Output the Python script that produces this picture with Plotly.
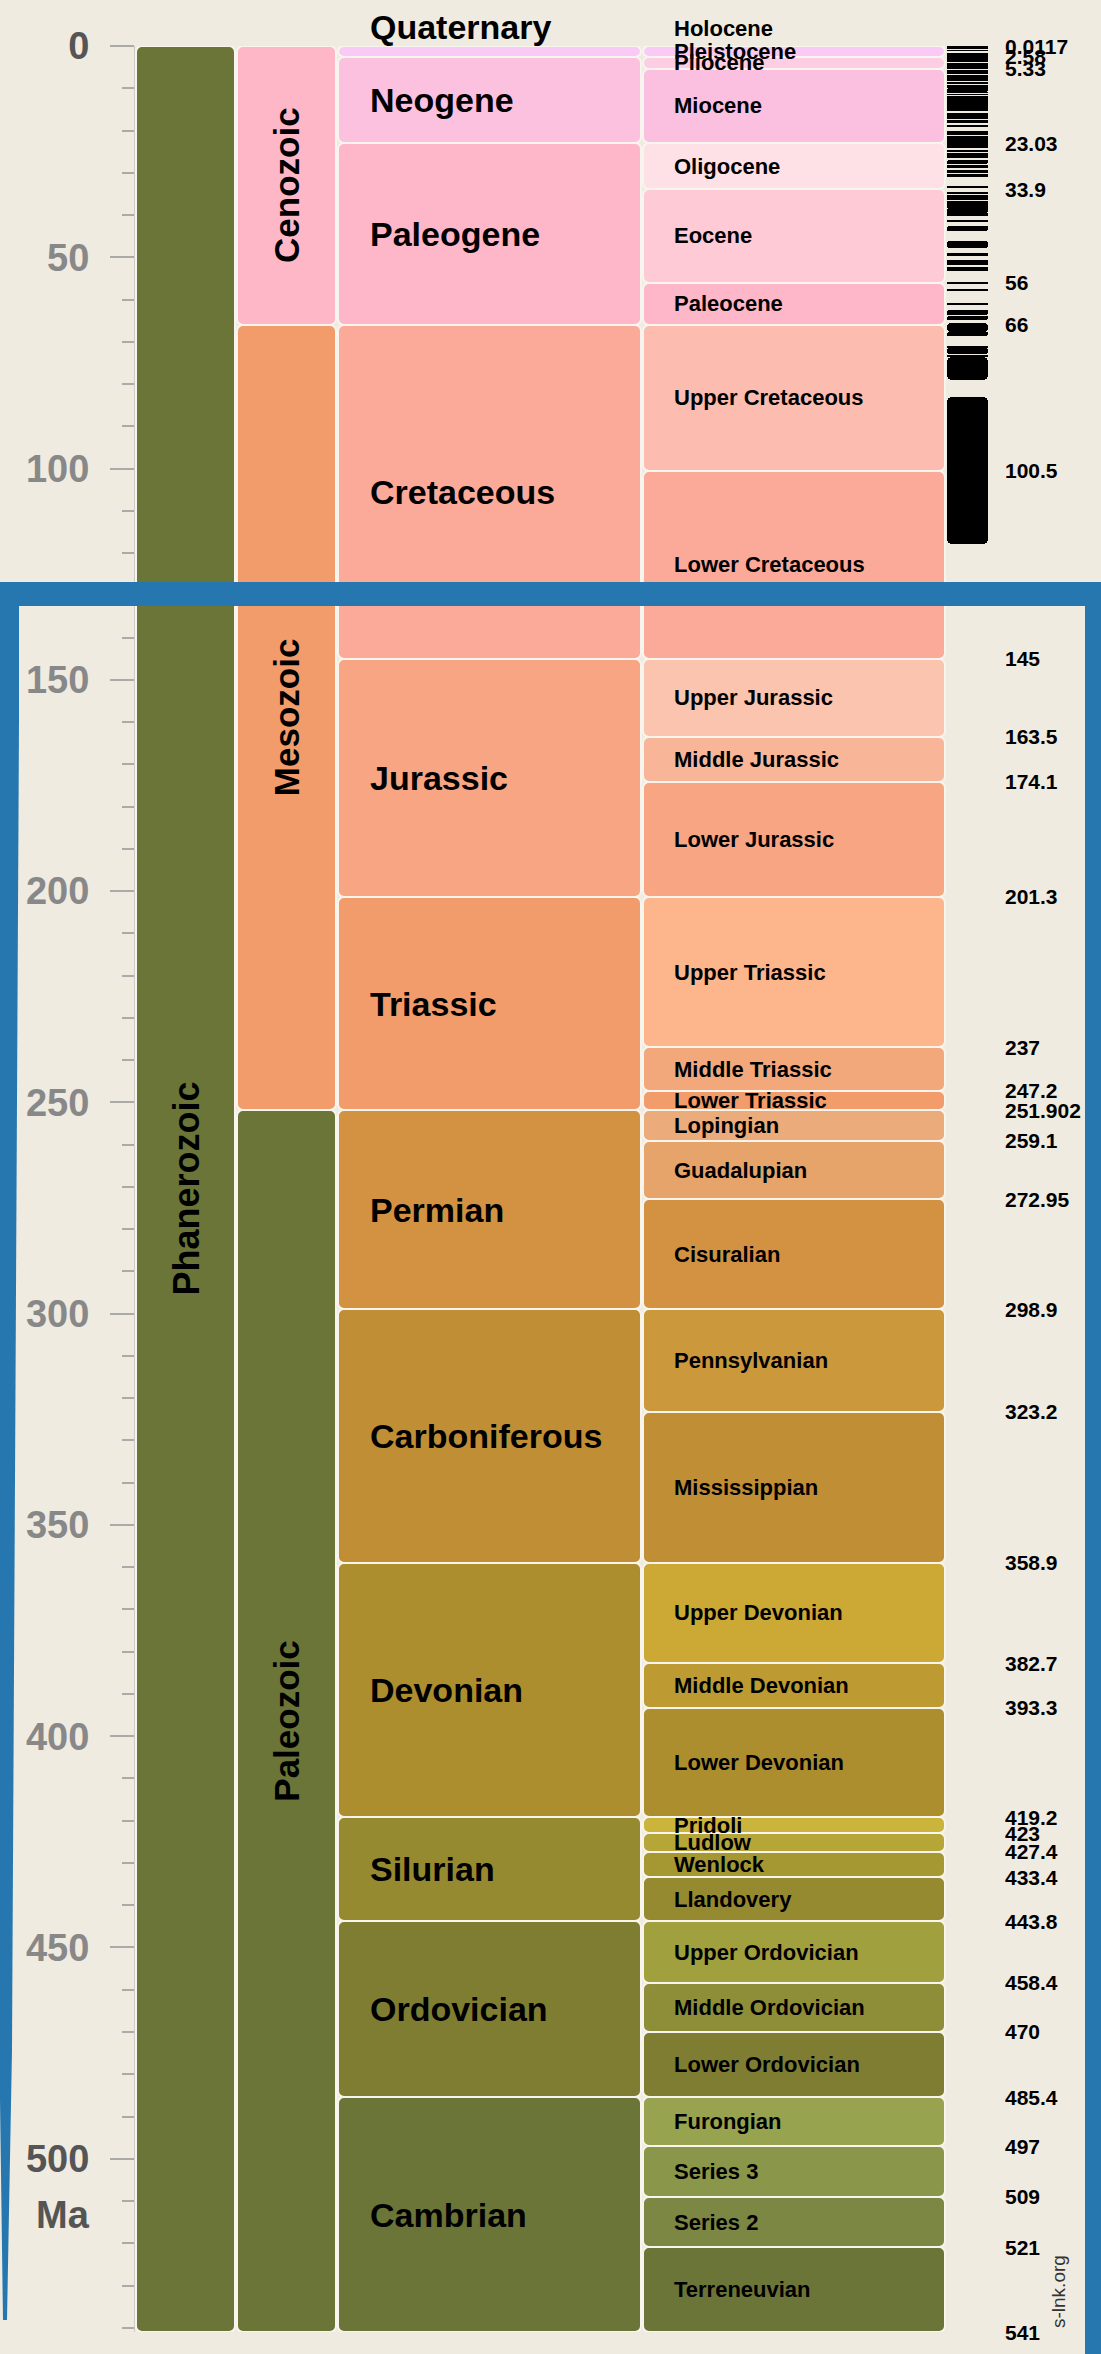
import plotly.graph_objects as go

BG = "#efebe1"
FONT = "Liberation Sans"

# ---- data (Ma) ----
eon_names = ["Phanerozoic"]
eon_start = [0]
eon_end = [541]
eon_colors = ["#6b7537"]

era_names = ["Cenozoic", "Mesozoic", "Paleozoic"]
era_start = [0, 66, 251.902]
era_end = [66, 251.902, 541]
era_colors = ["#fdb7c7", "#f29c6b", "#6b7537"]

period_names = ["Quaternary", "Neogene", "Paleogene", "Cretaceous", "Jurassic", "Triassic",
                "Permian", "Carboniferous", "Devonian", "Silurian", "Ordovician", "Cambrian"]
period_start = [0, 2.58, 23.03, 66, 145, 201.3, 251.902, 298.9, 358.9, 419.2, 443.8, 485.4]
period_end = [2.58, 23.03, 66, 145, 201.3, 251.902, 298.9, 358.9, 419.2, 443.8, 485.4, 541]
period_colors = ["#f9caf6", "#fbc1df", "#fdb7c8", "#fbaa9a", "#f8a584", "#f29c6b",
                 "#d39242", "#c08e35", "#ac8e2e", "#958a2f", "#7f7d31", "#6b7537"]

epoch_names = ["Holocene", "Pleistocene", "Pliocene", "Miocene", "Oligocene", "Eocene", "Paleocene",
               "Upper Cretaceous", "Lower Cretaceous", "Upper Jurassic", "Middle Jurassic",
               "Lower Jurassic", "Upper Triassic", "Middle Triassic", "Lower Triassic",
               "Lopingian", "Guadalupian", "Cisuralian", "Pennsylvanian", "Mississippian",
               "Upper Devonian", "Middle Devonian", "Lower Devonian", "Pridoli", "Ludlow",
               "Wenlock", "Llandovery", "Upper Ordovician", "Middle Ordovician",
               "Lower Ordovician", "Furongian", "Series 3", "Series 2", "Terreneuvian"]
epoch_start = [0, 0.0117, 2.58, 5.33, 23.03, 33.9, 56, 66, 100.5, 145, 163.5, 174.1, 201.3,
               237, 247.2, 251.902, 259.1, 272.95, 298.9, 323.2, 358.9, 382.7, 393.3, 419.2,
               423, 427.4, 433.4, 443.8, 458.4, 470, 485.4, 497, 509, 521]
epoch_end = epoch_start[1:] + [541]
epoch_colors = ["#f9caf6", "#f9caf6", "#fccde3", "#fbc0df", "#fde1e6", "#fdcad6", "#fdb7c8",
                "#fcbcb0", "#fbaa9a", "#fac4ae", "#f9b598", "#f8a584", "#fdb58c", "#f2a87b",
                "#f29c6b", "#ecab7b", "#e6a36a", "#d39242", "#cb983c", "#c08e35", "#cca935",
                "#bd9b32", "#ac8e2e", "#cab43b", "#b6a537", "#a59833", "#958a2f", "#a0a03f",
                "#8f8e38", "#7f7d31", "#97a34f", "#8a974a", "#7b8742", "#6b7537"]

boundary_labels = ["0.0117", "2.58", "5.33", "23.03", "33.9", "56", "66", "100.5", "145",
                   "163.5", "174.1", "201.3", "237", "247.2", "251.902", "259.1", "272.95",
                   "298.9", "323.2", "358.9", "382.7", "393.3", "419.2", "423", "427.4",
                   "433.4", "443.8", "458.4", "470", "485.4", "497", "509", "521", "541"]

# normal polarity chrons (Ma), Cande & Kent style
pol_start = [0.0, 0.99, 1.77, 2.14, 2.581, 3.11, 3.33, 4.18, 4.48, 4.8, 4.98, 5.894, 6.269,
             6.935, 7.135, 7.341, 7.432, 7.65, 8.225, 8.699, 9.23, 9.58, 9.74, 9.92, 11.052,
             11.476, 11.935, 12.184, 12.775, 12.991, 13.302, 13.703, 14.178, 14.8, 15.034,
             16.014, 16.327, 16.556, 16.88, 17.615, 18.781, 20.131, 20.725, 21.32, 21.859,
             22.248, 22.493, 22.75, 22.823, 23.353, 23.677, 23.999, 24.73, 24.835, 25.496,
             25.823, 25.992, 27.027, 28.283, 28.578, 29.401, 29.765, 30.479, 33.058, 34.655,
             35.343, 35.685, 36.618, 37.604, 37.92, 38.426, 39.631, 41.257, 42.536, 46.264,
             49.037, 50.778, 51.047, 52.364, 52.757, 52.903, 55.904, 57.554, 60.92, 62.499,
             63.976, 65.578, 67.735, 71.071, 71.587, 73.291, 73.619, 83.0]
pol_end = [0.78, 1.07, 1.95, 2.15, 3.04, 3.22, 3.58, 4.29, 4.62, 4.89, 5.23, 6.137, 6.567,
           7.091, 7.17, 7.375, 7.562, 8.072, 8.257, 9.025, 9.308, 9.642, 9.88, 10.949, 11.099,
           11.531, 12.078, 12.401, 12.819, 13.139, 13.51, 14.076, 14.612, 14.888, 15.155,
           16.293, 16.488, 16.726, 17.277, 18.281, 19.048, 20.518, 20.996, 21.768, 22.151,
           22.459, 22.588, 22.804, 23.069, 23.535, 23.8, 24.118, 24.781, 25.183, 25.648,
           25.951, 26.554, 27.972, 28.512, 28.745, 29.662, 30.098, 30.939, 33.545, 34.94,
           35.526, 36.341, 37.473, 37.848, 38.113, 39.552, 40.13, 41.521, 43.789, 47.906,
           49.714, 50.946, 51.743, 52.663, 52.801, 53.347, 56.391, 57.911, 61.276, 63.634,
           64.745, 67.61, 68.737, 71.338, 73.004, 73.374, 79.075, 117.8]

y_ticks = [0, 50, 100, 150, 200, 250, 300, 350, 400, 450, 500]

# ---- layout geometry (screen pixels) ----
W, H = 1101, 2354
PLOT_L, PLOT_T, PLOT_B = 135, 46, 2332
PLOT_R = W
EON_X = (136, 235)
ERA_X = (237, 336)
PER_X = (338, 641)
EPO_X = (643, 945)
POL_X = (947, 988)
LABEL_X = 1003


def px(xs):
    return (xs - PLOT_L) / (PLOT_R - PLOT_L)


def py(ys):
    return 1 - (ys - PLOT_T) / (PLOT_B - PLOT_T)


fig = go.Figure()


def add_column(starts, ends, colors, xs, line=True, radius=6):
    fig.add_trace(go.Bar(
        x=[(xs[0] + xs[1]) / 2] * len(starts),
        y=[e - s for s, e in zip(starts, ends)],
        base=starts,
        width=xs[1] - xs[0],
        marker=dict(color=colors, cornerradius=radius,
                    line=dict(color="#f8f4ee", width=2 if line else 0)),
        hoverinfo="skip",
        showlegend=False,
    ))


add_column(eon_start, eon_end, eon_colors, EON_X)
add_column(era_start, era_end, era_colors, ERA_X)
add_column(period_start, period_end, period_colors, PER_X)
add_column(epoch_start, epoch_end, epoch_colors, EPO_X)
add_column(pol_start, pol_end, ["#000000"] * len(pol_start), POL_X, line=False, radius=5)

annotations = []


def mid(s, e):
    return (s + e) / 2


# rotated eon / era labels
for name, s, e in zip(eon_names, eon_start, eon_end):
    annotations.append(dict(x=sum(EON_X) / 2, y=mid(s, e), xref="x", yref="y",
                            text=f"<b>{name}</b>", textangle=-90, showarrow=False,
                            font=dict(family=FONT, size=36, color="#000")))
for name, s, e in zip(era_names, era_start, era_end):
    annotations.append(dict(x=sum(ERA_X) / 2, y=mid(s, e), xref="x", yref="y",
                            text=f"<b>{name}</b>", textangle=-90, showarrow=False,
                            font=dict(family=FONT, size=35, color="#000")))

# period labels (the two thinnest get lifted above the top)
lifted = {"Quaternary": 24, "Holocene": 18}
for name, s, e in zip(period_names, period_start, period_end):
    annotations.append(dict(x=PER_X[0] + 30, y=mid(s, e), xref="x", yref="y",
                            xanchor="left", yanchor="middle", yshift=lifted.get(name, 0),
                            text=f"<b>{name}</b>", showarrow=False,
                            font=dict(family=FONT, size=34, color="#000")))

# epoch labels
for name, s, e in zip(epoch_names, epoch_start, epoch_end):
    annotations.append(dict(x=EPO_X[0] + 29, y=mid(s, e), xref="x", yref="y",
                            xanchor="left", yanchor="middle", yshift=lifted.get(name, 0),
                            text=f"<b>{name}</b>", showarrow=False,
                            font=dict(family=FONT, size=22, color="#000")))

# boundary ages
for lab in boundary_labels:
    annotations.append(dict(x=LABEL_X, y=float(lab), xref="x", yref="y",
                            xanchor="left", yanchor="middle",
                            text=f"<b>{lab}</b>", showarrow=False,
                            font=dict(family=FONT, size=21, color="#000")))

annotations.append(dict(x=px(63), y=py(2215), xref="paper", yref="paper",
                        text="<b>Ma</b>", showarrow=False,
                        xanchor="center", yanchor="middle",
                        font=dict(family=FONT, size=38, color="#555")))
annotations.append(dict(x=px(1058), y=py(2292), xref="paper", yref="paper",
                        text="s-lnk.org", textangle=-90, showarrow=False,
                        xanchor="center", yanchor="middle",
                        font=dict(family=FONT, size=19, color="#333")))


# blue frame overlay (screen pixel outlines)
def poly(points):
    return "M " + " L ".join(f"{px(a):.5f},{py(b):.5f}" for a, b in points) + " Z"


BLUE = "#2677b0"
frame_parts = [
    [(0, 582), (W, 582), (W, 606), (0, 606)],
    [(1085, 582), (W, 582), (W, H), (1085, H)],
    [(0, 582), (19, 582), (19, 720), (12, 2050), (7, 2320), (3, 2320), (0, 2100)],
]
shapes = [dict(type="path", xref="paper", yref="paper", path=poly(p),
               fillcolor=BLUE, line=dict(width=0), layer="above") for p in frame_parts]

tick_text = []
for v in y_ticks:
    col = "#555" if v in (0, 500) else "#888"
    tick_text.append(f"<span style='color:{col}'><b>{v}</b></span>")

fig.update_layout(
    width=W, height=H,
    margin=dict(l=PLOT_L, r=W - PLOT_R, t=PLOT_T, b=H - PLOT_B, pad=0, autoexpand=False),
    paper_bgcolor=BG, plot_bgcolor=BG,
    barmode="overlay",
    bargap=0,
    showlegend=False,
    annotations=annotations,
    shapes=shapes,
    xaxis=dict(range=[PLOT_L, PLOT_R], visible=False, fixedrange=True),
    yaxis=dict(
        range=[541, 0], autorange=False,
        tickvals=y_ticks, ticktext=tick_text,
        tickfont=dict(family=FONT, size=38, color="#888"),
        ticks="outside", ticklen=24, tickwidth=2, tickcolor="#aaa",
        ticklabelstandoff=13,
        minor=dict(dtick=10, ticks="outside", ticklen=12, tickwidth=2, tickcolor="#aaa"),
        showline=True, linecolor="#cfcac0", linewidth=1,
        showgrid=False, zeroline=False,
    ),
)

# drop the default page margin so the figure sits at the window's corner
fig.write_html("out.html", config={"displayModeBar": False},
               post_script="document.body.style.margin='0';")
